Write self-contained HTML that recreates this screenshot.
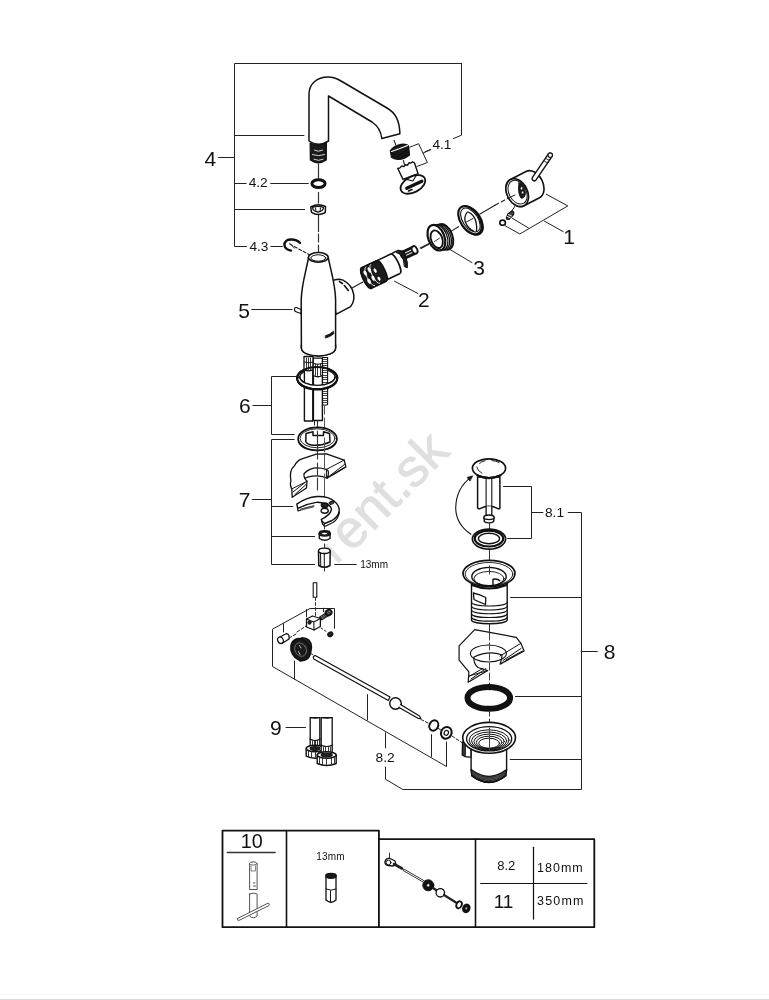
<!DOCTYPE html>
<html><head><meta charset="utf-8"><title>Exploded view</title>
<style>
html,body{margin:0;padding:0;background:#fff;}
body{width:769px;height:1000px;overflow:hidden;}
svg{display:block;}
text{font-family:"Liberation Sans", sans-serif;}
svg{will-change:transform;}
</style></head><body>
<svg width="769" height="1000" viewBox="0 0 769 1000" stroke-linejoin="round" stroke-linecap="round">
<rect width="769" height="1000" fill="#fff"/>
<g fill="#dfdfdf" stroke="#dfdfdf" stroke-width="0.9">
<text x="0" y="0" font-size="53" transform="translate(351.3,553.2) rotate(-45)">ent.sk</text>
</g>
<path d="M325.00,545.00 L340.60,561.60" fill="none" stroke="#e2e2e2" stroke-width="5" stroke-linecap="butt"/>
<path d="M461.70,63.50 L234.50,63.50 L234.50,246.50 L246.50,246.50" fill="none" stroke="#222" stroke-width="1.0" />
<path d="M461.50,63.30 L461.50,135.20 L453.30,138.60" fill="none" stroke="#222" stroke-width="1.0" />
<path d="M234.50,135.50 L304.00,135.50" fill="none" stroke="#222" stroke-width="1.0" />
<path d="M218.50,157.50 L234.50,157.50" fill="none" stroke="#222" stroke-width="1.0" />
<path d="M234.50,183.50 L246.20,183.50" fill="none" stroke="#222" stroke-width="1.0" />
<path d="M270.70,183.50 L308.30,183.50" fill="none" stroke="#222" stroke-width="1.0" />
<path d="M234.50,209.50 L304.60,209.50" fill="none" stroke="#222" stroke-width="1.0" />
<path d="M270.90,246.50 L282.30,246.50" fill="none" stroke="#222" stroke-width="1.0" />
<path d="M425.00,151.80 L430.50,149.50" fill="none" stroke="#222" stroke-width="1.0" />
<text x="204.5" y="165.5" font-size="21" text-anchor="start" fill="#111" >4</text>
<text x="248.7" y="187.3" font-size="13.7" text-anchor="start" fill="#111" >4.2</text>
<text x="249.4" y="251.4" font-size="13.7" text-anchor="start" fill="#111" >4.3</text>
<text x="432.4" y="149.0" font-size="13.7" text-anchor="start" fill="#111" >4.1</text>
<path d="M318.50,164.00 L318.50,178.00" fill="none" stroke="#333" stroke-width="1.2" />
<path d="M318.50,192.50 L318.50,203.00" fill="none" stroke="#333" stroke-width="1.2" />
<path d="M318.50,214.50 L318.50,231.40" fill="none" stroke="#333" stroke-width="1.2" />
<path d="M318.50,234.00 L318.50,252.00" fill="none" stroke="#333" stroke-width="1.2" stroke-dasharray="8 3" />
<path d="M309,141 L309,94 C309,84 317,77 328,77 C333,77 337,78.5 341,81 L387,108 C395.5,113 399.5,120 399.9,133.8 L381.8,138.5 C381,131 378,126 372,122 L328.5,96 L328.5,141 Q318.7,147.5 309,141 Z" fill="#fff" stroke="#111" stroke-width="1.5" />
<path d="M310.2,143 L310.4,160 Q318.3,165.5 326.2,160 L326.4,143 Q318.3,147 310.2,143 Z" fill="#1c1c1c" stroke="#111" stroke-width="1.3" />
<path d="M314.5,150.2 Q318.5,152.39999999999998 322.5,150.2" fill="none" stroke="#fff" stroke-width="0.8" />
<path d="M312.5,154.6 Q318.5,156.79999999999998 324.5,154.6" fill="none" stroke="#fff" stroke-width="0.8" />
<path d="M314,159.3 Q318.5,161.5 323,159.3" fill="none" stroke="#fff" stroke-width="0.8" />
<path d="M394.00,140.20 L395.80,144.90" fill="none" stroke="#222" stroke-width="1.1" />
<path d="M390.3,150.5 L391.5,157.5 Q400,162.5 409.5,155 L408.8,148 Z" fill="#141414" stroke="#111" stroke-width="1.2" />
<ellipse cx="399.60" cy="149.30" rx="9.50" ry="4.30" fill="#1a1a1a" stroke="#111" stroke-width="1.4" transform="rotate(-18.0 399.60 149.30)" />
<path d="M391.5,151.5 Q399,149 407.5,145.5" fill="none" stroke="#fff" stroke-width="1.1" />
<path d="M403.40,160.50 L404.60,165.00" fill="none" stroke="#222" stroke-width="1.1" />
<path d="M397.8,168.5 L403,179.4 L418.1,173.7 L414.4,162.8 L412.6,161.8 L410.6,163.2 L409.2,162.6 L407.6,165.2 L405.6,164.8 L404,166.6 L401.8,166 L400,167.8 Z" fill="#fff" stroke="#111" stroke-width="1.4" />
<ellipse cx="412.90" cy="184.40" rx="13.30" ry="7.90" fill="#fff" stroke="#111" stroke-width="1.8" transform="rotate(-28.0 412.90 184.40)" />
<path d="M404.6,178.9 L412.9,181 L416,175.8" fill="none" stroke="#111" stroke-width="1.1" />
<path d="M406.80,188.30 L421.80,181.20" fill="none" stroke="#111" stroke-width="3.4" />
<path d="M408.50,191.00 L412.00,189.50" fill="none" stroke="#111" stroke-width="1.6" />
<path d="M409.80,147.20 L418.60,143.70 L427.40,162.50 L416.90,166.50" fill="none" stroke="#222" stroke-width="1.0" />
<path d="M423.20,153.00 L430.90,149.60" fill="none" stroke="#222" stroke-width="1.0" />
<ellipse cx="318.50" cy="183.60" rx="6.60" ry="3.90" fill="#fff" stroke="#111" stroke-width="3.0" />
<path d="M310.8,207 L311.5,212.3 Q318,216.5 325.3,212.5 L325.5,206.5 Q318,203 310.8,207 Z" fill="#fff" stroke="#111" stroke-width="1.5" />
<path d="M312.5,207.5 Q318,205 323.5,207.5 Q323,211.5 318,212 Q313,211.5 312.5,207.5 Z" fill="none" stroke="#111" stroke-width="1.3" />
<path d="M315.5,208 L316,211 M320.5,208 L320,211" fill="none" stroke="#111" stroke-width="1.0" />
<path d="M300,242.8 Q295.5,238.3 288,239.8 Q283,242.5 285,247 Q286.5,249.8 291,250.6" fill="none" stroke="#111" stroke-width="2.4" />
<path d="M290,243.6 L294.5,248.2" fill="none" stroke="#111" stroke-width="1.0" />
<path d="M290.00,244.20 L308.80,254.40" fill="none" stroke="#222" stroke-width="1.1" stroke-dasharray="3 2" />
<path d="M332,282.2 C333,280 336,279.3 339.5,279.3 C344,279.5 350,284 352.5,290 C355,297 354.5,302 350.6,306.6 L335.9,314.4 Z" fill="#fff" stroke="#111" stroke-width="1.5" />
<path d="M339.5,281.6 L342.4,283.5 M344.4,285.5 L348.3,290.4" fill="none" stroke="#111" stroke-width="1.6" />
<path d="M308.6,257.2 C306.5,270 301.5,284 301.2,300 L301.4,348 C301.8,358.5 335.2,358.5 335.6,348 L335.6,300 C335.4,284 330.5,270 328.2,257.2 Z" fill="#fff" stroke="#111" stroke-width="1.5" />
<ellipse cx="318.30" cy="257.30" rx="9.90" ry="4.80" fill="#fff" stroke="#111" stroke-width="1.6" />
<ellipse cx="318.30" cy="258.00" rx="7.40" ry="3.20" fill="#fff" stroke="#111" stroke-width="1.0" />
<path d="M294.5,308.5 Q294,311 296,311.8 L300.8,313.6 L301,309.6 L296.5,307.5 Q294.8,307.2 294.5,308.5 Z" fill="#fff" stroke="#111" stroke-width="1.1" />
<path d="M325.5,335.8 Q330,334.5 333.5,331.2 L333.8,333.8 Q330,337 325.8,338 Z" fill="#111" stroke="#111" stroke-width="0.8" />
<path d="M251.80,309.50 L292.00,309.50" fill="none" stroke="#222" stroke-width="1.0" />
<text x="238.2" y="317.8" font-size="21" text-anchor="start" fill="#111" >5</text>
<path d="M352.00,288.10 L362.90,281.90" fill="none" stroke="#222" stroke-width="1.1" />
<path d="M420.20,247.90 L429.60,243.20" fill="none" stroke="#222" stroke-width="1.1" />
<path d="M394.50,281.20 L417.90,293.50" fill="none" stroke="#222" stroke-width="1.0" />
<text x="418.0" y="306.9" font-size="21" text-anchor="start" fill="#111" >2</text>
<path d="M401.82,251.68 L412.92,246.38 A3.90,2.34 -115.5 0 1 416.28,253.42 L405.18,258.72 A3.90,2.34 -115.5 0 1 401.82,251.68 Z" fill="#1c1c1c" stroke="#111" stroke-width="1.6"/>
<ellipse cx="414.60" cy="249.90" rx="3.90" ry="2.60" fill="#fff" stroke="#111" stroke-width="1.8" transform="rotate(64.6 414.60 249.90)" />
<path d="M410.88,250.23 L405.45,252.81" fill="none" stroke="#fff" stroke-width="1.0" />
<path d="M412.00,252.58 L406.57,255.16" fill="none" stroke="#fff" stroke-width="1.0" />
<path d="M363.40,267.14 L390.80,254.09 A10.70,3.10 -115.5 0 1 400.00,273.41 L372.60,286.46 A10.70,3.10 -115.5 0 1 363.40,267.14 Z" fill="#fff" stroke="#111" stroke-width="1.6"/>
<path d="M396.5,252.3 Q400,251.3 403.7,251.4 L405.3,256.5 Q408.3,262 407.3,267.8 L404.3,266.6 Q404.8,259.5 400.2,254.6 Z" fill="#1c1c1c" stroke="#111" stroke-width="1.0" />
<path d="M391.5,253.9 Q395,251.6 398.2,250.5 L403.7,251.4" fill="none" stroke="#111" stroke-width="1.5" />
<path d="M361.62,267.70 L376.62,260.60 A11.40,3.42 -115.3 0 1 386.38,281.20 L371.38,288.30 A11.40,3.42 -115.3 0 1 361.62,267.70 Z" fill="#1d1d1d" stroke="#111" stroke-width="1.5"/>
<ellipse cx="366.50" cy="278.00" rx="11.40" ry="3.50" fill="#1d1d1d" stroke="#111" stroke-width="1.5" transform="rotate(64.6 366.50 278.00)" />
<ellipse cx="365.25" cy="273.05" rx="2.40" ry="1.20" fill="#fff" stroke="#fff" stroke-width="0.6" transform="rotate(64.6 365.25 273.05)" />
<ellipse cx="369.12" cy="281.19" rx="2.40" ry="1.30" fill="#fff" stroke="#fff" stroke-width="0.6" transform="rotate(64.6 369.12 281.19)" />
<ellipse cx="369.34" cy="270.00" rx="2.60" ry="1.10" fill="#fff" stroke="#fff" stroke-width="0.6" transform="rotate(64.6 369.34 270.00)" />
<ellipse cx="373.21" cy="278.13" rx="2.40" ry="1.20" fill="#fff" stroke="#fff" stroke-width="0.6" transform="rotate(64.6 373.21 278.13)" />
<ellipse cx="375.15" cy="270.56" rx="2.00" ry="1.00" fill="#fff" stroke="#fff" stroke-width="0.6" transform="rotate(64.6 375.15 270.56)" />
<ellipse cx="379.02" cy="278.69" rx="1.80" ry="1.00" fill="#fff" stroke="#fff" stroke-width="0.6" transform="rotate(64.6 379.02 278.69)" />
<path d="M365.6,266.8 A10.5,3.2 64.6 0 0 374.6,285.8" fill="none" stroke="#fff" stroke-width="0.9" />
<path d="M370.6,264.4 A10.5,3.2 64.6 0 0 379.6,283.4" fill="none" stroke="#fff" stroke-width="0.9" />
<path d="M421.00,248.60 L428.80,244.30" fill="none" stroke="#222" stroke-width="1.1" />
<path d="M451.20,231.10 L458.50,226.70" fill="none" stroke="#222" stroke-width="1.1" />
<path d="M480.00,214.00 L495.00,205.20" fill="none" stroke="#222" stroke-width="1.1" />
<path d="M495.00,205.20 L507.00,198.80" fill="none" stroke="#222" stroke-width="1.1" stroke-dasharray="4 3" />
<path d="M450.20,249.60 L471.90,262.60" fill="none" stroke="#222" stroke-width="1.0" />
<text x="473.2" y="274.9" font-size="21" text-anchor="start" fill="#111" >3</text>
<ellipse cx="444.40" cy="236.90" rx="13.30" ry="8.10" fill="#fff" stroke="#111" stroke-width="2.0" transform="rotate(69.0 444.40 236.90)" />
<ellipse cx="442.60" cy="237.08" rx="13.30" ry="8.10" fill="#fff" stroke="#111" stroke-width="1.3" transform="rotate(69.0 442.60 237.08)" />
<ellipse cx="440.80" cy="237.26" rx="13.30" ry="8.10" fill="#fff" stroke="#111" stroke-width="1.3" transform="rotate(69.0 440.80 237.26)" />
<ellipse cx="439.00" cy="237.44" rx="13.30" ry="8.10" fill="#fff" stroke="#111" stroke-width="1.3" transform="rotate(69.0 439.00 237.44)" />
<ellipse cx="436.40" cy="237.70" rx="13.30" ry="8.10" fill="#fff" stroke="#111" stroke-width="2.2" transform="rotate(69.0 436.40 237.70)" />
<ellipse cx="436.70" cy="239.20" rx="9.20" ry="5.60" fill="#fff" stroke="#111" stroke-width="1.9" transform="rotate(69.0 436.70 239.20)" />
<path d="M434.50,241.50 L439.50,238.20" fill="none" stroke="#222" stroke-width="0.9" />
<ellipse cx="471.20" cy="220.60" rx="15.70" ry="9.40" fill="#fff" stroke="#111" stroke-width="2.0" transform="rotate(56.0 471.20 220.60)" />
<ellipse cx="470.00" cy="220.20" rx="15.70" ry="9.40" fill="#fff" stroke="#111" stroke-width="2.2" transform="rotate(56.0 470.00 220.20)" />
<ellipse cx="470.40" cy="220.00" rx="13.40" ry="7.60" fill="#fff" stroke="#111" stroke-width="1.1" transform="rotate(56.0 470.40 220.00)" />
<path d="M467.3,212.2 Q463.5,217 465.5,222.6 Q468,228.5 473.5,231" fill="none" stroke="#111" stroke-width="1.3" />
<path d="M468.3,212 Q474.5,215 476,222 Q477.2,227.5 476.5,231" fill="none" stroke="#111" stroke-width="1.3" />
<path d="M465.50,222.40 L473.00,218.50" fill="none" stroke="#222" stroke-width="1.0" />
<path d="M539.55,197.77 L523.95,205.77 A14.80,10.21 62.9 0 1 510.45,179.43 L526.05,171.43 A14.80,10.21 62.9 0 1 539.55,197.77 Z" fill="#fff" stroke="#111" stroke-width="1.6"/>
<ellipse cx="517.20" cy="192.60" rx="14.80" ry="10.21" fill="#fff" stroke="#111" stroke-width="1.6" transform="rotate(62.9 517.20 192.60)" />
<path d="M536.12,179.84 L552.02,156.44 A2.2,2.2 0 0 0 548.38,153.96 L532.48,177.36 A2.2,2.2 0 0 0 536.12,179.84 Z" fill="#fff" stroke="#111" stroke-width="1.4" />
<ellipse cx="550.20" cy="155.20" rx="2.20" ry="2.20" fill="#fff" stroke="#111" stroke-width="1.1" />
<path d="M546.3,158.8 Q548.3,160.5 550.3,159.8 M544.6,161.4 Q546.6,163 548.5,162.4" fill="none" stroke="#111" stroke-width="0.9" />
<ellipse cx="517.60" cy="192.20" rx="12.60" ry="8.60" fill="#fff" stroke="#111" stroke-width="1.0" transform="rotate(62.8 517.60 192.20)" />
<path d="M519,183 Q525,184.5 525.5,193.5 Q524,199 521,198 Q517.5,193 519,183 Z" fill="#1a1a1a" stroke="#111" stroke-width="1.0" />
<ellipse cx="521.70" cy="188.30" rx="1.40" ry="1.60" fill="#fff" stroke="#111" stroke-width="0.8" />
<ellipse cx="522.80" cy="192.50" rx="1.40" ry="1.60" fill="#fff" stroke="#111" stroke-width="0.8" />
<path d="M507.00,198.80 L515.00,195.00" fill="none" stroke="#222" stroke-width="1.0" />
<path d="M515.20,205.90 L511.50,211.50" fill="none" stroke="#222" stroke-width="1.0" />
<path d="M508,213.8 L512.2,210.8 Q514.5,212 513.5,214.5 L509.3,219.3 Q507,220 506.3,218.3 Z" fill="#444" stroke="#111" stroke-width="1.2" />
<path d="M508.5,214.5 L511.5,216 M507.5,216.5 L510.5,218" fill="none" stroke="#fff" stroke-width="0.9" />
<ellipse cx="502.60" cy="222.70" rx="2.80" ry="2.60" fill="#fff" stroke="#111" stroke-width="1.6" />
<path d="M546.20,194.20 L567.80,205.90 L519.80,234.00 L505.20,225.80" fill="none" stroke="#222" stroke-width="1.0" />
<path d="M512.20,218.20 L528.60,228.10" fill="none" stroke="#222" stroke-width="1.0" />
<path d="M544.40,221.10 L563.10,231.60" fill="none" stroke="#222" stroke-width="1.0" />
<text x="563.3" y="243.5" font-size="21" text-anchor="start" fill="#111" >1</text>
<path d="M296.00,376.50 L271.50,376.50 L271.50,434.50 L294.20,434.50" fill="none" stroke="#222" stroke-width="1.0" />
<path d="M252.80,405.50 L271.50,405.50" fill="none" stroke="#222" stroke-width="1.0" />
<text x="238.9" y="413.1" font-size="21" text-anchor="start" fill="#111" >6</text>
<path d="M294.20,439.50 L271.50,439.50 L271.50,564.50 L314.60,564.50" fill="none" stroke="#222" stroke-width="1.0" />
<path d="M252.20,499.50 L271.70,499.50" fill="none" stroke="#222" stroke-width="1.0" />
<text x="238.7" y="506.8" font-size="21" text-anchor="start" fill="#111" >7</text>
<path d="M271.70,506.50 L292.80,506.50" fill="none" stroke="#222" stroke-width="1.0" />
<path d="M271.70,536.50 L314.60,536.50" fill="none" stroke="#222" stroke-width="1.0" />
<path d="M334.70,564.50 L356.30,564.50" fill="none" stroke="#222" stroke-width="1.0" />
<text x="360.2" y="567.8" font-size="10" text-anchor="start" fill="#111" >13mm</text>
<ellipse cx="317.20" cy="378.10" rx="20.10" ry="11.00" fill="#fff" stroke="#111" stroke-width="2.0" />
<ellipse cx="317.40" cy="377.00" rx="17.60" ry="8.40" fill="#fff" stroke="#111" stroke-width="1.4" />
<path d="M322.4,357.5 L327.6,357.5 L327.6,404.5 Q325,406 322.4,404.5 Z" fill="#fff" stroke="#111" stroke-width="1.1" />
<path d="M323.00,359.50 L327.00,359.50" fill="none" stroke="#333" stroke-width="0.9" />
<path d="M323.00,361.50 L327.00,361.50" fill="none" stroke="#333" stroke-width="0.9" />
<path d="M323.00,363.50 L327.00,363.50" fill="none" stroke="#333" stroke-width="0.9" />
<path d="M323.00,365.50 L327.00,365.50" fill="none" stroke="#333" stroke-width="0.9" />
<path d="M323.00,368.50 L327.00,368.50" fill="none" stroke="#333" stroke-width="0.9" />
<path d="M323.00,370.50 L327.00,370.50" fill="none" stroke="#333" stroke-width="0.9" />
<path d="M323.00,372.50 L327.00,372.50" fill="none" stroke="#333" stroke-width="0.9" />
<path d="M323.00,375.50 L327.00,375.50" fill="none" stroke="#333" stroke-width="0.9" />
<path d="M323.00,377.50 L327.00,377.50" fill="none" stroke="#333" stroke-width="0.9" />
<path d="M323.00,379.50 L327.00,379.50" fill="none" stroke="#333" stroke-width="0.9" />
<path d="M323.00,382.50 L327.00,382.50" fill="none" stroke="#333" stroke-width="0.9" />
<path d="M323.00,384.50 L327.00,384.50" fill="none" stroke="#333" stroke-width="0.9" />
<path d="M323.00,386.50 L327.00,386.50" fill="none" stroke="#333" stroke-width="0.9" />
<path d="M323.00,388.50 L327.00,388.50" fill="none" stroke="#333" stroke-width="0.9" />
<path d="M323.00,391.50 L327.00,391.50" fill="none" stroke="#333" stroke-width="0.9" />
<path d="M323.00,393.50 L327.00,393.50" fill="none" stroke="#333" stroke-width="0.9" />
<path d="M323.00,395.50 L327.00,395.50" fill="none" stroke="#333" stroke-width="0.9" />
<path d="M323.00,398.50 L327.00,398.50" fill="none" stroke="#333" stroke-width="0.9" />
<path d="M323.00,400.50 L327.00,400.50" fill="none" stroke="#333" stroke-width="0.9" />
<path d="M323.00,402.50 L327.00,402.50" fill="none" stroke="#333" stroke-width="0.9" />
<path d="M304.4,369 L312.8,369 L312.8,421 L304.4,421 Z" fill="#fff" stroke="#111" stroke-width="1.4" />
<path d="M313.4,374 L322.4,374 L322.4,420.5 L313.4,420.5 Z" fill="#fff" stroke="#111" stroke-width="1.4" />
<path d="M304,356.5 L313.2,356.5 L313.2,369.7 Q308.6,372 304,369.7 Z" fill="#fff" stroke="#111" stroke-width="1.3" />
<path d="M313.2,358.2 L322.4,358.2 L322.4,375.5 Q317.8,378 313.2,375.5 Z" fill="#fff" stroke="#111" stroke-width="1.3" />
<path d="M306.50,358.00 L306.50,369.50" fill="none" stroke="#222" stroke-width="0.9" />
<path d="M308.50,358.00 L308.50,369.50" fill="none" stroke="#222" stroke-width="0.9" />
<path d="M310.50,358.00 L310.50,369.50" fill="none" stroke="#222" stroke-width="0.9" />
<path d="M315.50,364.00 L315.50,375.50" fill="none" stroke="#222" stroke-width="0.9" />
<path d="M317.50,364.00 L317.50,375.50" fill="none" stroke="#222" stroke-width="0.9" />
<path d="M320.50,364.00 L320.50,375.50" fill="none" stroke="#222" stroke-width="0.9" />
<path d="M313.2,363.5 Q317.8,365.5 322.4,363.5" fill="none" stroke="#111" stroke-width="1.0" />
<path d="M304,362 Q308.6,364 313.2,362" fill="none" stroke="#111" stroke-width="1.0" />
<path d="M297.1,378.1 A20.1,11 0 0 0 337.3,378.1 L335,377 A17.6,8.4 0 0 1 299.8,377 Z" fill="#fff" stroke="#111" stroke-width="1.4" />
<ellipse cx="317.20" cy="378.10" rx="20.10" ry="11.00" fill="none" stroke="#111" stroke-width="2.0" />
<path d="M297.5,380.3 A19.8,10.6 0 0 0 336.9,380.3" fill="none" stroke="#111" stroke-width="1.5" />
<path d="M301.4,346 L301.4,348 C301.8,358.5 335.2,358.5 335.6,348 L335.6,346 Z" fill="#fff" stroke="none" stroke-width="0" />
<path d="M301.4,345 L301.4,348 C301.8,358.5 335.2,358.5 335.6,348 L335.6,345" fill="none" stroke="#111" stroke-width="1.5" />
<path d="M314.50,421.00 L314.50,425.00" fill="none" stroke="#222" stroke-width="1.0" />
<path d="M317.50,421.00 L317.50,428.00" fill="none" stroke="#333" stroke-width="1.1" />
<path d="M324.50,406.00 L324.50,414.00" fill="none" stroke="#555" stroke-width="1.0" />
<path d="M324.50,418.00 L324.50,428.00" fill="none" stroke="#555" stroke-width="1.0" />
<ellipse cx="317.50" cy="438.80" rx="19.40" ry="11.50" fill="#fff" stroke="#111" stroke-width="1.7" />
<path d="M298.3,440.5 Q300,450 317.5,450.6 Q335,450 336.7,440.5" fill="none" stroke="#111" stroke-width="1.2" />
<ellipse cx="317.50" cy="438.30" rx="17.50" ry="9.50" fill="none" stroke="#111" stroke-width="0.9" />
<path d="M306,433.5 L313,431.8 L313,435.5 L323.5,435.5 L323.5,431.8 L329.5,433.5 L330,442 Q322,445.8 313,445.3 Q307,444.5 305.8,441.5 Z" fill="#fff" stroke="#111" stroke-width="1.5" />
<path d="M317.50,431.00 L317.50,452.00" fill="none" stroke="#333" stroke-width="1.1" />
<path d="M324.50,438.00 L324.50,452.00" fill="none" stroke="#555" stroke-width="1.0" />
<path d="M294.3,466 Q297,460.5 301.9,458.9 L316.3,454.2 L326.4,453.8 L344.2,460.1 L345.9,466.9 L327.3,477.9 Q330,470.5 326.4,469.4 Q312,465 304,473.7 Q303.5,478 307,481.3 L306.5,488 L292.2,497.3 L291.8,488.9 Q289.5,484 290.9,481.3 Q289,470 294.3,466 Z" fill="#fff" stroke="#111" stroke-width="1.3" />
<path d="M326.4,469.4 L326.4,477.9 M326.4,469.4 L344.2,460.1" fill="none" stroke="#111" stroke-width="1.0" />
<path d="M304.6,478.4 Q309,475.6 317.1,475.8 Q323,476 327.3,478.3" fill="none" stroke="#111" stroke-width="1.2" />
<path d="M307,481.3 L291.8,488.9" fill="none" stroke="#111" stroke-width="1.0" />
<path d="M329.5,476 L344.5,464.5 M333,475 L345.5,467 M295,494.5 L306,484.5 M293,492 L305,482.5" fill="none" stroke="#111" stroke-width="1.0" />
<path d="M317.50,452.00 L317.50,459.00" fill="none" stroke="#333" stroke-width="1.1" />
<path d="M317.50,463.00 L317.50,475.00" fill="none" stroke="#333" stroke-width="1.1" />
<path d="M317.50,478.00 L317.50,490.00" fill="none" stroke="#333" stroke-width="1.1" />
<path d="M324.50,454.00 L324.50,470.00" fill="none" stroke="#555" stroke-width="1.0" />
<path d="M324.50,474.00 L324.50,502.00" fill="none" stroke="#555" stroke-width="1.0" />
<path d="M296.8,504.1 Q306,497.5 317.1,496.5 Q328,496 334,501 Q340,506 339.1,511.5 Q338,517 332,520.5 L324.7,523.5 L321.8,521 L321.3,519.3 Q330,515.5 331.5,509.5 Q331,505 324.5,503.5 Q318,502 316.3,502.4 Q306,504 297.7,508.3 Z" fill="#fff" stroke="#111" stroke-width="1.4" />
<path d="M297.7,508.3 L298,511 Q306,507.5 314,506 M321.8,521 L322.5,524 L324.7,526.5 L333,522.5 Q338.5,519 339.5,512" fill="none" stroke="#111" stroke-width="1.2" />
<path d="M301,509.5 L313,506.5" fill="none" stroke="#555" stroke-width="2.0" />
<ellipse cx="324.70" cy="505.20" rx="3.40" ry="2.20" fill="#222" stroke="#111" stroke-width="1.3" />
<ellipse cx="324.70" cy="510.80" rx="3.60" ry="2.40" fill="#fff" stroke="#111" stroke-width="1.4" />
<ellipse cx="331.50" cy="502.80" rx="2.40" ry="1.40" fill="#444" stroke="#111" stroke-width="1.0" transform="rotate(-20.0 331.50 502.80)" />
<path d="M324.50,524.00 L324.50,529.00" fill="none" stroke="#333" stroke-width="1.0" />
<path d="M319.2,533.5 L319.4,538.5 Q324.6,542 330,538.5 L330.2,533.5 Z" fill="#fff" stroke="#111" stroke-width="1.4" />
<ellipse cx="324.70" cy="533.40" rx="5.50" ry="2.60" fill="#222" stroke="#111" stroke-width="1.4" />
<ellipse cx="324.70" cy="533.60" rx="3.00" ry="1.30" fill="#fff" stroke="#111" stroke-width="0.8" />
<path d="M318.5,551 L318.8,565.5 Q324.3,569 330,565.5 L330.2,551 Z" fill="#fff" stroke="#111" stroke-width="1.5" />
<ellipse cx="324.30" cy="550.80" rx="5.80" ry="2.70" fill="#fff" stroke="#111" stroke-width="1.4" />
<path d="M324.3,553.5 L324.3,567.5 M320.5,553 L320.8,566.5" fill="none" stroke="#111" stroke-width="1.0" />
<path d="M324.50,544.00 L324.50,547.50" fill="none" stroke="#333" stroke-width="1.0" />
<path d="M324.50,568.00 L324.50,571.00" fill="none" stroke="#333" stroke-width="1.0" />
<path d="M313.2,582.7 L316.8,582.7 L316.8,597.3 L313.2,597.3 Z" fill="#fff" stroke="#111" stroke-width="1.1" />
<path d="M315.50,597.50 L315.50,622.00" fill="none" stroke="#333" stroke-width="1.0" stroke-dasharray="3 2" />
<path d="M334.50,628.30 L334.50,608.50 L310.00,608.50 L272.50,629.20 L272.50,666.50 L446.50,766.50 L446.50,742.00" fill="none" stroke="#222" stroke-width="1.0" />
<path d="M283.50,623.50 L283.50,632.00" fill="none" stroke="#222" stroke-width="1.0" />
<path d="M294.50,661.00 L294.50,679.20" fill="none" stroke="#222" stroke-width="1.0" />
<path d="M306.50,609.50 L306.50,616.80" fill="none" stroke="#222" stroke-width="1.0" />
<path d="M323.50,608.20 L323.50,611.60" fill="none" stroke="#222" stroke-width="1.0" />
<path d="M367.50,694.60 L367.50,720.00" fill="none" stroke="#222" stroke-width="1.0" />
<path d="M431.50,734.60 L431.50,756.50" fill="none" stroke="#222" stroke-width="1.0" />
<path d="M385.50,732.80 L385.50,747.90" fill="none" stroke="#222" stroke-width="1.0" />
<path d="M385.50,767.10 L385.50,779.20 L402.80,789.50 L581.50,789.50 L581.50,512.50 L568.20,512.50" fill="none" stroke="#222" stroke-width="1.0" />
<text x="375.6" y="761.8" font-size="13.7" text-anchor="start" fill="#111" >8.2</text>
<path d="M306.5,619 L312.5,616 L320.5,618.5 L320.3,626.5 L314,630 L306.5,627 Z" fill="#fff" stroke="#111" stroke-width="1.3" />
<path d="M306.5,619 L313.8,622 L320.5,618.5 M313.8,622 L314,630" fill="none" stroke="#111" stroke-width="1.1" />
<ellipse cx="309.50" cy="622.50" rx="1.60" ry="1.80" fill="#222" stroke="#111" stroke-width="1.0" />
<path d="M297.00,632.00 L306.00,626.00" fill="none" stroke="#222" stroke-width="1.0" stroke-dasharray="3 2" />
<path d="M319.5,617.2 L327,612 L329.5,615 L321.8,619.8 Z" fill="#333" stroke="#111" stroke-width="1.1" />
<path d="M321.00,615.80 L322.80,618.60" fill="none" stroke="#bbb" stroke-width="0.6" />
<path d="M322.80,614.55 L324.60,617.35" fill="none" stroke="#bbb" stroke-width="0.6" />
<path d="M324.60,613.30 L326.40,616.10" fill="none" stroke="#bbb" stroke-width="0.6" />
<path d="M326.40,612.05 L328.20,614.85" fill="none" stroke="#bbb" stroke-width="0.6" />
<ellipse cx="328.60" cy="612.60" rx="3.40" ry="3.00" fill="#222" stroke="#111" stroke-width="1.3" transform="rotate(-30.0 328.60 612.60)" />
<ellipse cx="328.90" cy="612.30" rx="1.30" ry="1.10" fill="none" stroke="#999" stroke-width="0.6" transform="rotate(-30.0 328.90 612.30)" />
<ellipse cx="330.30" cy="634.30" rx="2.60" ry="2.10" fill="#222" stroke="#111" stroke-width="1.2" transform="rotate(-30.0 330.30 634.30)" />
<path d="M321.00,628.00 L327.00,632.00" fill="none" stroke="#222" stroke-width="1.0" stroke-dasharray="2 2" />
<path d="M279,637.5 L286.5,633.5 Q290,634.5 289,639 L282,643.5 Q278.5,644 278,640.5 Z" fill="#fff" stroke="#111" stroke-width="1.3" />
<ellipse cx="280.50" cy="640.20" rx="2.70" ry="3.30" fill="#fff" stroke="#111" stroke-width="1.2" transform="rotate(-28.0 280.50 640.20)" />
<path d="M289.00,638.00 L297.00,633.50" fill="none" stroke="#222" stroke-width="1.0" stroke-dasharray="3 2" />
<path d="M296,640.5 L302,637.8 Q311,638 311.5,647 Q311,657 305.5,658.8 L300,661 Z" fill="#222" stroke="#111" stroke-width="1.4" />
<ellipse cx="300.60" cy="649.60" rx="9.20" ry="11.30" fill="#1a1a1a" stroke="#111" stroke-width="1.8" transform="rotate(-28.0 300.60 649.60)" />
<ellipse cx="300.60" cy="649.60" rx="5.60" ry="7.00" fill="#1a1a1a" stroke="#777" stroke-width="0.8" transform="rotate(-28.0 300.60 649.60)" />
<path d="M299.5,645.5 L301,648 M298.5,651.5 L300,654.5" fill="none" stroke="#ccc" stroke-width="0.9" />
<path d="M311.00,653.50 L314.50,655.50" fill="none" stroke="#222" stroke-width="1.0" stroke-dasharray="2 2" />
<path d="M315.2,655.6 L390,697 L388.3,700.4 L313.8,659 Q312.2,656 315.2,655.6 Z" fill="#fff" stroke="#111" stroke-width="1.2" />
<ellipse cx="395.50" cy="703.50" rx="5.80" ry="5.80" fill="#fff" stroke="#111" stroke-width="1.4" />
<path d="M400.5,704.5 L419.5,716 L420.8,718.6 L418,718.3 L399,707.5" fill="#fff" stroke="#111" stroke-width="1.2" />
<path d="M421.00,719.50 L428.00,723.00" fill="none" stroke="#222" stroke-width="1.0" stroke-dasharray="3 2" />
<ellipse cx="433.80" cy="725.50" rx="4.30" ry="5.30" fill="#fff" stroke="#111" stroke-width="2.0" transform="rotate(25.0 433.80 725.50)" />
<path d="M438.00,728.30 L441.50,730.30" fill="none" stroke="#222" stroke-width="1.0" />
<ellipse cx="446.30" cy="732.80" rx="5.20" ry="6.00" fill="#fff" stroke="#111" stroke-width="2.0" transform="rotate(25.0 446.30 732.80)" />
<ellipse cx="446.30" cy="732.80" rx="2.10" ry="2.50" fill="#fff" stroke="#111" stroke-width="1.2" transform="rotate(25.0 446.30 732.80)" />
<path d="M452.00,736.00 L462.10,742.70" fill="none" stroke="#222" stroke-width="1.0" stroke-dasharray="3 2" />
<text x="270.0" y="735.4" font-size="21" text-anchor="start" fill="#111" >9</text>
<path d="M286.00,727.50 L305.50,727.50" fill="none" stroke="#222" stroke-width="1.0" />
<path d="M310.2,717.6 L310.2,747 L319.8,747 L319.8,717.6 Z" fill="#fff" stroke="#111" stroke-width="1.3" />
<path d="M310.2,717.6 Q315.0,719.1 319.8,717.6" fill="none" stroke="#111" stroke-width="1.0" />
<path d="M309.7,739 Q315.0,742 320.3,739" fill="none" stroke="#111" stroke-width="1.1" />
<path d="M312.50,741.00 L312.50,749.00" fill="none" stroke="#222" stroke-width="0.9" />
<path d="M314.50,741.00 L314.50,749.00" fill="none" stroke="#222" stroke-width="0.9" />
<path d="M315.50,741.00 L315.50,749.00" fill="none" stroke="#222" stroke-width="0.9" />
<path d="M317.50,741.00 L317.50,749.00" fill="none" stroke="#222" stroke-width="0.9" />
<path d="M306.2,748.5 L306.2,756.2 Q315.0,760.2 323.8,756.2 L323.8,748.5 Z" fill="#fff" stroke="#111" stroke-width="1.4" />
<ellipse cx="315.00" cy="748.50" rx="8.80" ry="3.20" fill="#fff" stroke="#111" stroke-width="1.6" />
<ellipse cx="315.00" cy="748.50" rx="4.80" ry="1.80" fill="#222" stroke="#111" stroke-width="1.2" />
<path d="M308.50,751.50 L308.50,757.20" fill="none" stroke="#222" stroke-width="0.9" />
<path d="M311.50,751.50 L311.50,757.20" fill="none" stroke="#222" stroke-width="0.9" />
<path d="M315.50,751.50 L315.50,757.20" fill="none" stroke="#222" stroke-width="0.9" />
<path d="M318.50,751.50 L318.50,757.20" fill="none" stroke="#222" stroke-width="0.9" />
<path d="M321.50,751.50 L321.50,757.20" fill="none" stroke="#222" stroke-width="0.9" />
<path d="M321.2,717.6 L321.2,753 L332.2,753 L332.2,717.6 Z" fill="#fff" stroke="#111" stroke-width="1.3" />
<path d="M321.2,717.6 Q326.7,719.1 332.2,717.6" fill="none" stroke="#111" stroke-width="1.0" />
<path d="M320.7,745 Q326.7,748 332.7,745" fill="none" stroke="#111" stroke-width="1.1" />
<path d="M323.50,747.00 L323.50,755.00" fill="none" stroke="#222" stroke-width="0.9" />
<path d="M325.50,747.00 L325.50,755.00" fill="none" stroke="#222" stroke-width="0.9" />
<path d="M328.50,747.00 L328.50,755.00" fill="none" stroke="#222" stroke-width="0.9" />
<path d="M330.50,747.00 L330.50,755.00" fill="none" stroke="#222" stroke-width="0.9" />
<path d="M317.2,755 L317.2,763.5 Q326.7,767.5 336.2,763.5 L336.2,755 Z" fill="#fff" stroke="#111" stroke-width="1.4" />
<ellipse cx="326.70" cy="755.00" rx="9.50" ry="3.20" fill="#fff" stroke="#111" stroke-width="1.6" />
<ellipse cx="326.70" cy="755.00" rx="5.50" ry="1.80" fill="#222" stroke="#111" stroke-width="1.2" />
<path d="M319.50,758.00 L319.50,764.50" fill="none" stroke="#222" stroke-width="0.9" />
<path d="M322.50,758.00 L322.50,764.50" fill="none" stroke="#222" stroke-width="0.9" />
<path d="M326.50,758.00 L326.50,764.50" fill="none" stroke="#222" stroke-width="0.9" />
<path d="M331.50,758.00 L331.50,764.50" fill="none" stroke="#222" stroke-width="0.9" />
<path d="M334.50,758.00 L334.50,764.50" fill="none" stroke="#222" stroke-width="0.9" />
<path d="M503.50,486.50 L531.50,486.50 L531.50,538.50 L507.60,538.50" fill="none" stroke="#222" stroke-width="1.0" />
<path d="M531.60,512.50 L542.90,512.50" fill="none" stroke="#222" stroke-width="1.0" />
<text x="545.0" y="517.3" font-size="13.7" text-anchor="start" fill="#111" >8.1</text>
<path d="M510.50,597.50 L581.20,597.50" fill="none" stroke="#222" stroke-width="1.0" />
<path d="M515.40,696.50 L581.20,696.50" fill="none" stroke="#222" stroke-width="1.0" />
<path d="M510.20,759.50 L581.20,759.50" fill="none" stroke="#222" stroke-width="1.0" />
<path d="M581.20,651.50 L597.30,651.50" fill="none" stroke="#222" stroke-width="1.0" />
<text x="603.7" y="659.1" font-size="21" text-anchor="start" fill="#111" >8</text>
<path d="M489.50,518.00 L489.50,530.00" fill="none" stroke="#333" stroke-width="1.0" />
<path d="M489.50,547.00 L489.50,566.00" fill="none" stroke="#333" stroke-width="1.0" />
<path d="M470.9,534.3 Q456,524 455.7,508.2 Q456,488 471.4,476.9" fill="none" stroke="#111" stroke-width="1.1" />
<path d="M472.3,476 L467.2,477.4 L469.8,480.8 Z" fill="#111" stroke="#111" stroke-width="0.8" />
<path d="M477.6,477 L477.6,507.8 Q478,509.2 480,508.7 Q485,506.2 489,506.3 Q493,506.2 498,508.7 Q500,509.2 499.9,507.8 L499.9,477 Z" fill="#fff" stroke="#111" stroke-width="1.5" />
<path d="M486.1,478 L486.1,506 M491.8,478 L491.8,506" fill="none" stroke="#111" stroke-width="1.1" />
<path d="M486.1,506.3 L486.1,516.5 L491.8,516.5 L491.8,506.3" fill="#fff" stroke="#111" stroke-width="1.3" />
<path d="M483.9,517.5 L484.4,521.6 Q489,524.2 493.6,521.6 L494.1,517.5 Z" fill="#fff" stroke="#111" stroke-width="1.4" />
<ellipse cx="489.00" cy="517.30" rx="5.10" ry="2.30" fill="#fff" stroke="#111" stroke-width="1.4" />
<ellipse cx="489.00" cy="468.30" rx="16.60" ry="9.50" fill="#fff" stroke="#111" stroke-width="1.7" />
<path d="M477.5,475.6 Q489,480.5 500.3,475.6" fill="none" stroke="#111" stroke-width="2.2" />
<path d="M479.5,463.5 Q481,461.5 485,460.8 M492,460.6 Q496,460.8 499,462.5 M476.8,467 Q477.5,471 482,473.3" fill="none" stroke="#111" stroke-width="0.9" />
<ellipse cx="489.00" cy="539.10" rx="16.60" ry="10.00" fill="#fff" stroke="#111" stroke-width="1.7" />
<ellipse cx="489.00" cy="538.60" rx="14.20" ry="7.90" fill="none" stroke="#111" stroke-width="2.2" />
<ellipse cx="489.00" cy="538.50" rx="10.60" ry="5.30" fill="#fff" stroke="#111" stroke-width="1.4" />
<path d="M471.5,582 L471.5,620 A17.8,3.8 0 0 0 507.2,620 L507.2,582 Z" fill="#fff" stroke="#111" stroke-width="1.4" />
<path d="M471.6,602.6 A17.8,3.6 0 0 0 507.1,602.6" fill="none" stroke="#111" stroke-width="1.1" />
<path d="M471.6,606.6 A17.8,3.6 0 0 0 507.1,606.6" fill="none" stroke="#111" stroke-width="1.1" />
<path d="M471.6,610.4 A17.8,3.6 0 0 0 507.1,610.4" fill="none" stroke="#111" stroke-width="1.1" />
<path d="M471.6,614.2 A17.8,3.6 0 0 0 507.1,614.2" fill="none" stroke="#111" stroke-width="1.1" />
<path d="M471.6,617.8 A17.8,3.6 0 0 0 507.1,617.8" fill="none" stroke="#111" stroke-width="1.1" />
<path d="M473.4,593 Q480,594.5 485.8,597.5 L485.5,604.5 Q479,602 474,599.5 Z" fill="#fff" stroke="#111" stroke-width="1.3" />
<path d="M471.8,585 Q489,592 506.7,585" fill="none" stroke="#111" stroke-width="2.0" />
<ellipse cx="489.00" cy="573.50" rx="26.00" ry="13.20" fill="#fff" stroke="#111" stroke-width="1.7" />
<ellipse cx="489.00" cy="574.10" rx="23.80" ry="11.60" fill="none" stroke="#111" stroke-width="0.9" />
<ellipse cx="489.00" cy="576.60" rx="17.20" ry="9.20" fill="#fff" stroke="#111" stroke-width="1.4" />
<ellipse cx="489.00" cy="578.60" rx="15.00" ry="7.20" fill="none" stroke="#111" stroke-width="0.9" />
<path d="M493,579.3 L493,585.2 M493,579.3 Q497.5,578.3 499.8,580.8" fill="none" stroke="#111" stroke-width="1.4" />
<path d="M489.50,566.00 L489.50,574.00" fill="none" stroke="#333" stroke-width="1.0" />
<path d="M489.50,624.00 L489.50,633.00" fill="none" stroke="#333" stroke-width="1.0" />
<path d="M474.7,629.6 L516.3,637.4 L520.9,643.3 L524.1,651 L500.1,664.1 Q502,658 502,655 Q489,650 474,657 Q473,663 478,667.5 L487.7,670.6 L468.2,682.3 L468.9,671.9 L459.1,660.2 L459.1,645.9 Z" fill="#fff" stroke="#111" stroke-width="1.2" />
<path d="M520.9,643.3 L500,656 M487.7,670.6 L469,676" fill="none" stroke="#111" stroke-width="1.0" />
<path d="M503,660.5 L521,648.5 M506,660 L522.5,651 M471,679 L486,668.5 M469,676.5 L483,668.3" fill="none" stroke="#111" stroke-width="1.0" />
<ellipse cx="488.40" cy="653.50" rx="18.00" ry="8.50" fill="none" stroke="#111" stroke-width="1.1" />
<path d="M489.50,633.00 L489.50,690.00" fill="none" stroke="#444" stroke-width="1.0" stroke-dasharray="7 3" />
<ellipse cx="488.80" cy="697.90" rx="21.30" ry="10.90" fill="none" stroke="#111" stroke-width="6" />
<path d="M489.50,712.00 L489.50,724.00" fill="none" stroke="#333" stroke-width="1.0" stroke-dasharray="4 3" />
<path d="M471.1,748 L471.1,770 L471.9,776 Q489,789 505.7,776 L506.6,770 L506.6,748 Z" fill="#fff" stroke="#111" stroke-width="1.4" />
<path d="M471.1,769.6 Q489,783 506.6,769.6 L505.7,775.5 Q489,789 471.9,775.5 Z" fill="#6a6a6a" stroke="#111" stroke-width="1.3" />
<path d="M471.7,771.2 Q489,784.6 506.0,771.2" fill="none" stroke="#111" stroke-width="0.7" />
<path d="M472.0,772.8 Q489,786.2 505.7,772.8" fill="none" stroke="#111" stroke-width="0.7" />
<path d="M472.2,774.2 Q489,787.6 505.5,774.2" fill="none" stroke="#111" stroke-width="0.7" />
<path d="M471.9,775.5 Q489,789 505.7,775.5" fill="none" stroke="#111" stroke-width="1.6" />
<path d="M462.5,742 L462.3,755 Q465,757.5 470.9,757 L470.9,746 Z" fill="#fff" stroke="#111" stroke-width="1.3" />
<path d="M462.5,742.5 L462.4,754.5 L465.5,755.5 L465.6,744 Z" fill="#333" stroke="#111" stroke-width="0.8" />
<ellipse cx="489.10" cy="737.80" rx="26.40" ry="15.40" fill="#fff" stroke="#111" stroke-width="1.6" />
<ellipse cx="489.10" cy="738.80" rx="22.60" ry="12.10" fill="#fff" stroke="#111" stroke-width="1.3" />
<ellipse cx="489.10" cy="740.00" rx="20.00" ry="10.20" fill="none" stroke="#111" stroke-width="1.0" />
<ellipse cx="489.10" cy="740.80" rx="17.60" ry="8.80" fill="none" stroke="#111" stroke-width="1.0" />
<ellipse cx="489.10" cy="741.60" rx="15.20" ry="7.50" fill="none" stroke="#111" stroke-width="1.0" />
<ellipse cx="489.10" cy="742.40" rx="12.80" ry="6.20" fill="none" stroke="#111" stroke-width="1.0" />
<ellipse cx="489.10" cy="743.20" rx="10.40" ry="5.00" fill="none" stroke="#111" stroke-width="1.0" />
<path d="M489.50,728.00 L489.50,750.00" fill="none" stroke="#444" stroke-width="1.0" />
<path d="M222.5,830.6 L378.9,830.6 L378.9,927.2 L222.5,927.2 Z" fill="none" stroke="#111" stroke-width="1.8" />
<path d="M286.50,830.60 L286.50,927.20" fill="none" stroke="#111" stroke-width="1.6" />
<path d="M378.9,839.2 L594.3,839.2 L594.3,927.2 L378.9,927.2" fill="none" stroke="#111" stroke-width="1.8" />
<path d="M475.50,839.20 L475.50,927.20" fill="none" stroke="#111" stroke-width="1.6" />
<path d="M533.50,847.30 L533.50,919.10" fill="none" stroke="#111" stroke-width="1.2" />
<path d="M480.70,883.50 L586.90,883.50" fill="none" stroke="#111" stroke-width="1.2" />
<text x="240.8" y="848.0" font-size="19.8" text-anchor="start" fill="#111" >10</text>
<path d="M227.30,852.50 L275.10,852.50" fill="none" stroke="#333" stroke-width="1.4" />
<text x="316.2" y="859.9" font-size="10" text-anchor="start" fill="#111" letter-spacing="0.2">13mm</text>
<text x="497.2" y="870.0" font-size="13" text-anchor="start" fill="#111" >8.2</text>
<text x="537.1" y="872.4" font-size="12.5" text-anchor="start" fill="#111" letter-spacing="1">180mm</text>
<text x="493.7" y="908.4" font-size="19" text-anchor="start" fill="#111" >11</text>
<text x="537.0" y="905.4" font-size="12.5" text-anchor="start" fill="#111" letter-spacing="1.2">350mm</text>
<path d="M249.6,864 L249.6,889.5 L257.1,889.5 L257.1,864 Q253.3,860 249.6,864 Z" fill="#fff" stroke="#555" stroke-width="1.0" />
<ellipse cx="253.30" cy="863.50" rx="3.70" ry="1.60" fill="#fff" stroke="#555" stroke-width="0.9" />
<path d="M251,866 L251,871 L255.5,871 L255.5,866" fill="none" stroke="#666" stroke-width="0.8" />
<path d="M253.5,883 L255,883 M253.5,886 L255.5,886" fill="none" stroke="#555" stroke-width="1.0" />
<path d="M249.6,894 L249.6,916 Q253.3,919.5 257.1,916 L257.1,894 Q253.3,892 249.6,894 Z" fill="#fff" stroke="#555" stroke-width="1.0" />
<path d="M237.5,918.5 L268.3,903 Q270,904 269,905.5 L238.8,920.5 Q236.5,920.5 237.5,918.5 Z" fill="#fff" stroke="#555" stroke-width="1.0" />
<path d="M326,877 L326,900 Q331,904.5 336,900 L336,877 Z" fill="#fff" stroke="#111" stroke-width="1.3" />
<ellipse cx="331.00" cy="875.80" rx="5.30" ry="2.50" fill="#1a1a1a" stroke="#111" stroke-width="1.3" />
<path d="M326,889 Q331,891.5 336,889 M330.5,891 L330.5,902" fill="none" stroke="#111" stroke-width="1.0" />
<path d="M385,861.5 Q386,857.5 390,858.5 L395,861 Q397,865 393,866 L388.5,865.5 Q384.5,865 385,861.5 Z" fill="#fff" stroke="#111" stroke-width="1.3" />
<ellipse cx="388.50" cy="862.50" rx="2.50" ry="2.20" fill="#fff" stroke="#111" stroke-width="1.0" />
<path d="M389.50,858.00 L389.50,853.00" fill="none" stroke="#222" stroke-width="0.9" />
<path d="M394.00,864.00 L402.00,868.50" fill="none" stroke="#222" stroke-width="2.6" />
<path d="M404.00,870.00 L428.00,884.00" fill="none" stroke="#222" stroke-width="2.6" />
<path d="M404.00,870.00 L428.00,884.00" fill="none" stroke="#fff" stroke-width="1.0" />
<ellipse cx="428.30" cy="885.30" rx="5.50" ry="5.50" fill="#111" stroke="#111" stroke-width="1" />
<ellipse cx="428.30" cy="885.30" rx="1.50" ry="1.50" fill="#fff" stroke="#111" stroke-width="0.5" />
<path d="M433.00,888.00 L436.00,890.00" fill="none" stroke="#222" stroke-width="2.4" />
<ellipse cx="440.30" cy="892.80" rx="4.20" ry="4.20" fill="#fff" stroke="#111" stroke-width="1.3" />
<path d="M444.00,895.00 L456.00,902.50" fill="none" stroke="#222" stroke-width="2.2" />
<ellipse cx="459.10" cy="904.80" rx="2.60" ry="3.60" fill="#fff" stroke="#111" stroke-width="1.8" transform="rotate(25.0 459.10 904.80)" />
<ellipse cx="466.30" cy="908.40" rx="3.00" ry="3.80" fill="#111" stroke="#111" stroke-width="2.2" transform="rotate(25.0 466.30 908.40)" />
<ellipse cx="466.30" cy="908.40" rx="1.00" ry="1.30" fill="#fff" stroke="#111" stroke-width="0.5" transform="rotate(25.0 466.30 908.40)" />
<rect x="0" y="994" width="769" height="1" fill="#f8f8f8"/>
<rect x="0" y="999" width="769" height="1" fill="#dadada"/>
</svg>
</body></html>
